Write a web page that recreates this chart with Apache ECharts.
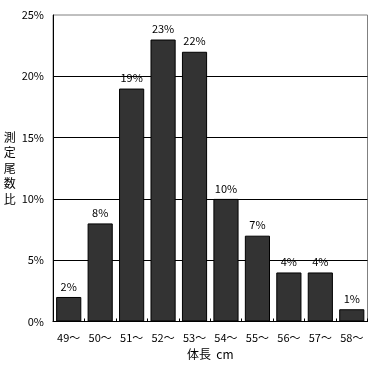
<!DOCTYPE html>
<html><head><meta charset="utf-8">
<script src="https://cdn.jsdelivr.net/npm/echarts@6/dist/echarts.min.js"></script>
<style>html,body{margin:0;padding:0;background:#fff}#c{width:382px;height:367px}</style>
</head><body><div id="c"></div>
<script>
const categories = ['49～','50～','51～','52～','53～','54～','55～','56～','57～','58～'];
const values = [2, 8, 19, 23, 22, 10, 7, 4, 4, 1];
const yTicks = [0, 5, 10, 15, 20, 25];
const font = '"Noto Sans CJK JP", "DejaVu Sans", sans-serif';
const chart = echarts.init(document.getElementById('c'));
chart.setOption({
  animation: false,
  grid: {left: 53, right: 14.5, top: 15, bottom: 45.5, show: true, borderColor: '#808080', borderWidth: 1},
  xAxis: {
    type: 'category', data: categories,
    name: '体長  cm', nameLocation: 'middle', nameGap: 27,
    nameTextStyle: {color: '#000', fontSize: 12, fontFamily: font},
    axisLine: {lineStyle: {color: '#000', width: 1}},
    axisTick: {show: true, inside: true, length: 3, lineStyle: {color: '#000'}},
    axisLabel: {color: '#000', fontSize: 11, fontFamily: font, margin: 11}
  },
  yAxis: {
    type: 'value', min: 0, max: 25, interval: 5,
    name: '測\n定\n尾\n数\n比', nameLocation: 'middle', nameRotate: 0, nameGap: 28,
    nameTextStyle: {color: '#000', fontSize: 12, lineHeight: 15.5, fontFamily: font},
    axisLine: {show: true, lineStyle: {color: '#000', width: 1}},
    axisTick: {show: false},
    axisLabel: {color: '#000', fontSize: 11, fontFamily: font, margin: 9,
      formatter: v => yTicks.includes(v) ? v + '%' : ''},
    splitLine: {show: true, showMaxLine: false, lineStyle: {color: '#000', width: 1}}
  },
  series: [{
    type: 'bar', data: values, barCategoryGap: '20%',
    itemStyle: {color: '#333333', borderColor: '#000', borderWidth: 1},
    label: {show: true, position: 'top', distance: 5, color: '#000', fontSize: 11, fontFamily: font, formatter: p => p.value + '%'}
  }]
});
</script></body></html>
